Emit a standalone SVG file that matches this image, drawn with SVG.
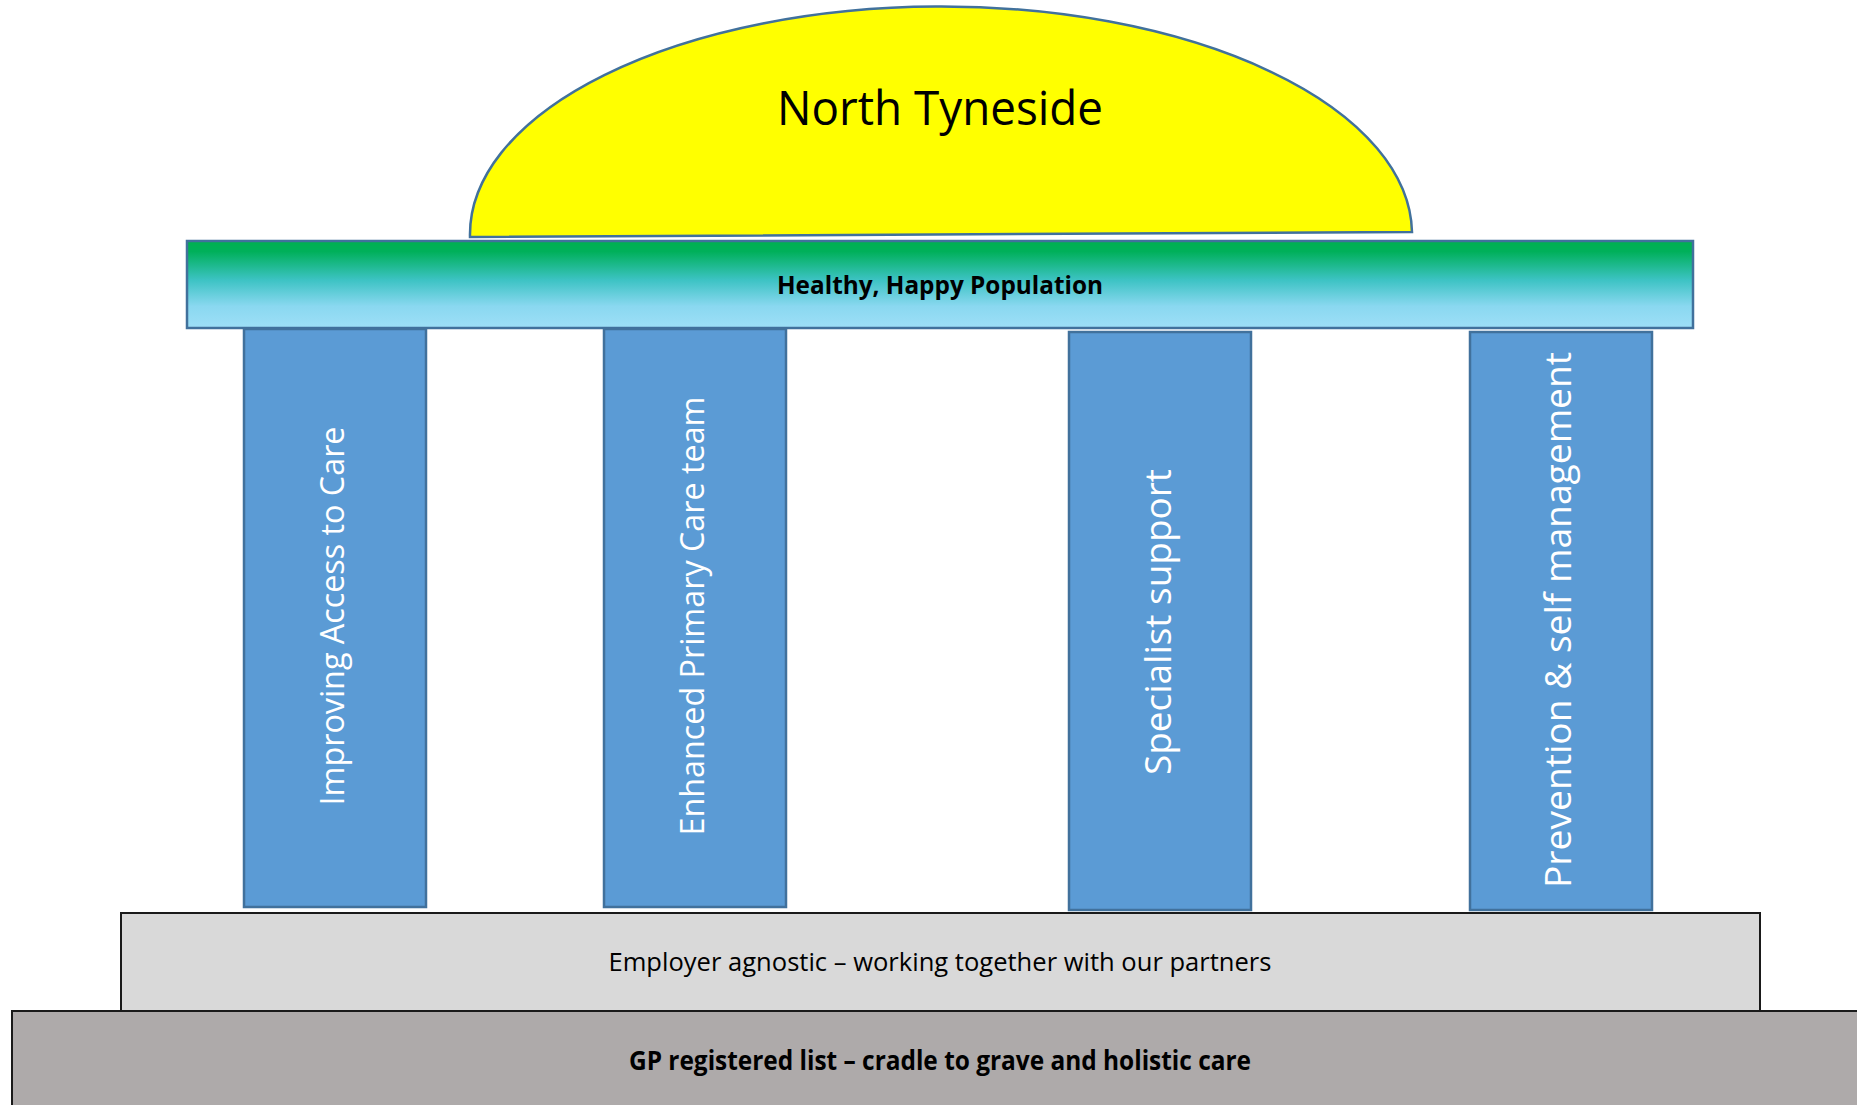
<svg xmlns="http://www.w3.org/2000/svg" width="1857" height="1105" viewBox="0 0 1857 1105">
  <style>
    .pillar { fill: #5b9bd5; stroke: #41719c; stroke-width: 2.5; }
    .pillar-label { font-family: "Open Sans", "Liberation Sans", sans-serif; fill: #ffffff; text-anchor: middle; }
    .label { font-family: "Open Sans", "Liberation Sans", sans-serif; fill: #000000; text-anchor: middle; }
  </style>
  <defs>
    <linearGradient id="roofFill" x1="0" y1="0" x2="0" y2="1">
      <stop offset="0" stop-color="#00b050"/>
      <stop offset="0.12" stop-color="#00b05a"/>
      <stop offset="0.45" stop-color="#3dc3c4"/>
      <stop offset="0.75" stop-color="#8ad8f0"/>
      <stop offset="1" stop-color="#9edff7"/>
    </linearGradient>
  </defs>
  <rect width="1857" height="1105" fill="#ffffff"/>

  <!-- Dome -->
  <g id="dome">
    <path d="M470,237 A471,228 0 0 1 1412,232 Z" fill="#ffff00" stroke="#41719c" stroke-width="2.5"/>
    <text class="label" x="940" y="125" font-size="48" textLength="326" lengthAdjust="spacingAndGlyphs">North Tyneside</text>
  </g>

  <!-- Roof beam -->
  <g id="roof">
    <rect x="187" y="241" width="1506" height="87" fill="url(#roofFill)" stroke="#41719c" stroke-width="2.5"/>
    <text class="label" x="940" y="294" font-size="25" font-weight="bold" textLength="326" lengthAdjust="spacingAndGlyphs">Healthy, Happy Population</text>
  </g>

  <!-- Pillars -->
  <g id="pillar-access">
    <rect class="pillar" x="244" y="329" width="182" height="578"/>
    <text class="pillar-label" transform="translate(344,616) rotate(-90)" font-size="33" textLength="379" lengthAdjust="spacingAndGlyphs">Improving Access to Care</text>
  </g>
  <g id="pillar-primary-care">
    <rect class="pillar" x="604" y="329" width="182" height="578"/>
    <text class="pillar-label" transform="translate(704,616) rotate(-90)" font-size="33" textLength="439" lengthAdjust="spacingAndGlyphs">Enhanced Primary Care team</text>
  </g>
  <g id="pillar-specialist">
    <rect class="pillar" x="1069" y="332" width="182" height="578"/>
    <text class="pillar-label" transform="translate(1171,622) rotate(-90)" font-size="37" textLength="306" lengthAdjust="spacingAndGlyphs">Specialist support</text>
  </g>
  <g id="pillar-prevention">
    <rect class="pillar" x="1470" y="332" width="182" height="578"/>
    <text class="pillar-label" transform="translate(1571,620) rotate(-90)" font-size="37" textLength="536" lengthAdjust="spacingAndGlyphs">Prevention &amp; self management</text>
  </g>

  <!-- Foundations -->
  <g id="employer-step">
    <rect x="121" y="913" width="1639" height="98" fill="#d9d9d9" stroke="#1a1a1a" stroke-width="2"/>
    <text class="label" x="940" y="971" font-size="26" textLength="663" lengthAdjust="spacingAndGlyphs">Employer agnostic – working together with our partners</text>
  </g>
  <g id="gp-base">
    <rect x="12" y="1011" width="1860" height="110" fill="#aeaaaa" stroke="#1a1a1a" stroke-width="2"/>
    <text class="label" x="940" y="1070" font-size="26" font-weight="bold" textLength="622" lengthAdjust="spacingAndGlyphs">GP registered list – cradle to grave and holistic care</text>
  </g>

  <g id="connectors"/>
</svg>
